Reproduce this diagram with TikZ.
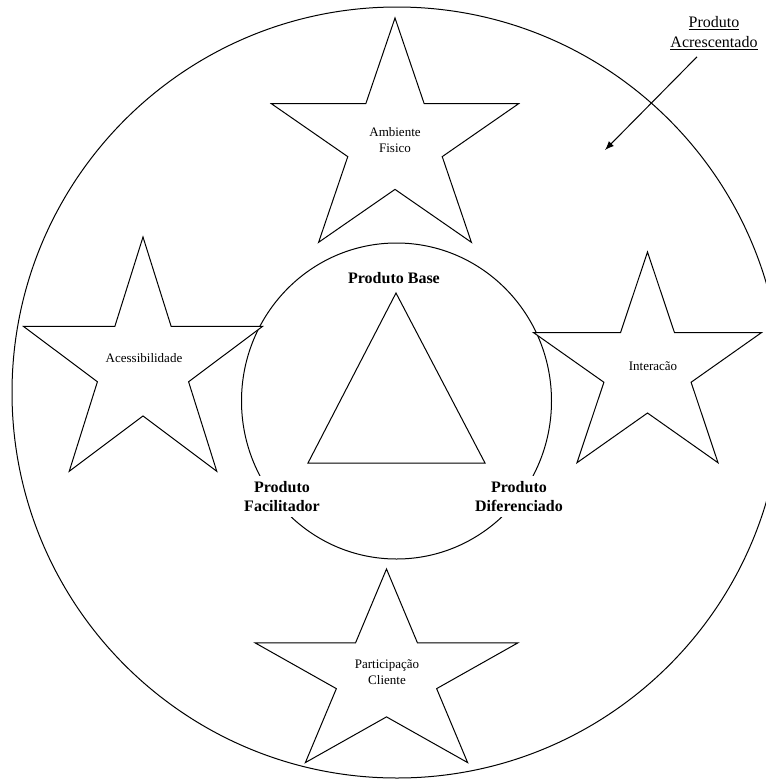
\documentclass[tikz,border=0pt]{standalone}
\usepackage{fontspec}
\setmainfont{Liberation Serif}
\usetikzlibrary{arrows.meta}

% five-pointed star: centre (#1,#2), outer radii #3 (horizontal) and #4 (vertical)
\newcommand\drawstarpath[4]{%
  \draw[starline] ({#1},{#2-#4})
    \foreach \a in {0,72,144,216,288} {
      -- ({#1+0.382*#3*cos(126+\a)},{#2-0.382*#4*sin(126+\a)})
      -- ({#1+#3*cos(162+\a)},{#2-#4*sin(162+\a)})
    } -- cycle;}

\tikzset{
  shapeline/.style={line width=1pt, draw=black},
  starline/.style={shapeline, fill=white, line join=miter},
  starlabel/.style={align=center, font=\fontsize{13}{16}\selectfont, inner sep=1pt},
  levellabel/.style={align=center, font=\fontsize{16}{19}\selectfont\bfseries, inner sep=1pt},
  gaplabel/.style={levellabel, fill=white, inner sep=5pt},
  notelabel/.style={align=center, font=\fontsize{16}{20}\selectfont, inner sep=1pt},
  pointer/.style={line width=1pt, -{Latex[length=9pt,width=7pt]}}
}

\begin{document}
\begin{tikzpicture}[x=1pt, y=-1pt]
  \useasboundingbox (0,0) rectangle (766,780);

  % outer ring: augmented product
  \draw[shapeline] (397,392.5) ellipse [x radius=385pt, y radius=385.5pt];
  % inner ring: basic product
  \draw[shapeline] (396.5,401) ellipse [x radius=155pt, y radius=158pt];

  % core triangle
  \coordinate (tA) at (396,293);
  \coordinate (tB) at (308,463);
  \coordinate (tC) at (485,463);
  \draw[shapeline, line join=miter] (tA) -- (tB) -- (tC) -- cycle;

  % the four stars
  \drawstarpath{395}{142}{130}{124}
  \drawstarpath{143}{366.5}{125.5}{129.5}
  \drawstarpath{647.5}{368.5}{120}{116.5}
  \drawstarpath{386.5}{676}{138}{107}

  \node[starlabel] (ambiente) at (395,140) {Ambiente\\Fisico};
  \node[starlabel] (acess) at (144,358) {Acessibilidade};
  \node[starlabel] (inter) at (653,366) {Interacão};
  \node[starlabel] (partic) at (387,672.5) {Participação\\Cliente};

  % labels of the basic product
  \node[levellabel] (base) at (394,278) {Produto Base};
  \node[gaplabel] (facil) at (282,496.5) {Produto\\Facilitador};
  \node[gaplabel] (difer) at (519,496.5) {Produto\\Diferenciado};

  % augmented product note and its pointer
  \node[notelabel] (acr) at (714,33) {\underline{Produto}\\\underline{Acrescentado}};
  \coordinate (acrtip) at (605,150);
  \draw[pointer] ([xshift=-17pt,yshift=-6pt]acr.south) -- (acrtip);
\end{tikzpicture}
\end{document}
